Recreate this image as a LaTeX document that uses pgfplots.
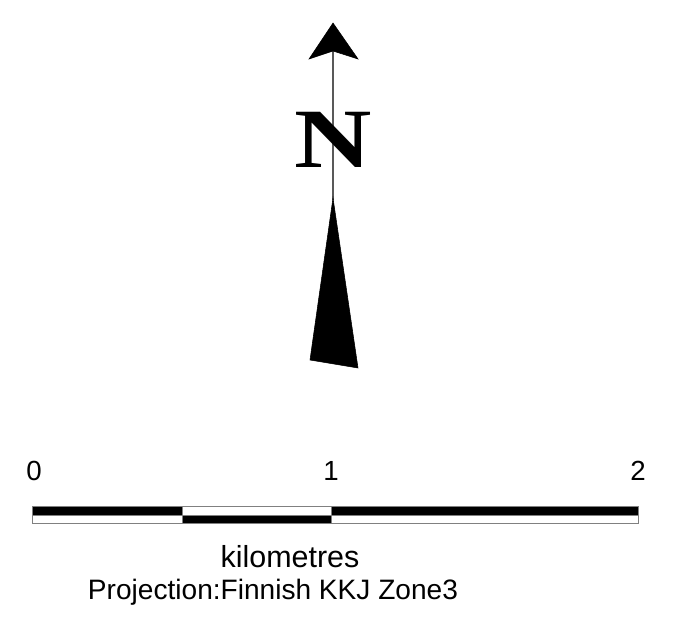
\documentclass[border=0pt]{standalone}
\usepackage{pgfplots}
\pgfplotsset{compat=1.18}
\usepackage{fontspec}
\setmainfont{Liberation Sans}
\newfontfamily\serifN{Liberation Serif}
\begin{document}
\begin{tikzpicture}
\begin{axis}[
    width=6.76in, height=6.31in, scale only axis,
    xmin=0, xmax=676, ymin=0, ymax=631,
    y dir=reverse,
    hide axis, clip=false,
]
\draw[draw=none] (rel axis cs:0,0) rectangle (rel axis cs:1,1);
% north arrow shaft
\addplot[gray!70!black, line width=0.8pt] coordinates {(333,50) (333,200)};
% arrow head
\addplot[fill=black, draw=black] coordinates {(333,23) (358,59) (333,51) (309,59)} -- cycle;
% lower wedge
\addplot[fill=black, draw=black] coordinates {(333,198) (358,368) (310,360)} -- cycle;
\node[font={\serifN\bfseries\fontsize{61}{61}\selectfont}, xscale=1.27, inner sep=0pt]
    at (axis cs:333,140) {N};
% scale bar: upper half
\addplot[fill=black, draw=gray, line width=0.5pt] coordinates {(32,506) (182,506) (182,515) (32,515)} -- cycle;
\addplot[fill=white, draw=gray, line width=0.5pt] coordinates {(182,506) (331,506) (331,515) (182,515)} -- cycle;
\addplot[fill=black, draw=gray, line width=0.5pt] coordinates {(331,506) (638,506) (638,515) (331,515)} -- cycle;
% scale bar: lower half
\addplot[fill=white, draw=gray, line width=0.5pt] coordinates {(32,515) (182,515) (182,523) (32,523)} -- cycle;
\addplot[fill=black, draw=gray, line width=0.5pt] coordinates {(182,515) (331,515) (331,523) (182,523)} -- cycle;
\addplot[fill=white, draw=gray, line width=0.5pt] coordinates {(331,515) (638,515) (638,523) (331,523)} -- cycle;
% labels
\foreach \x/\t in {34/0, 331/1, 638/2} {
  \edef\temp{\noexpand\node[anchor=base, inner sep=0pt, font=\noexpand\fontsize{20}{20}\noexpand\selectfont] at (axis cs:\x,480) {\t};}
  \temp
}
\node[anchor=base, inner sep=0pt, font=\fontsize{22}{22}\selectfont] at (axis cs:290,567) {kilometres};
\node[anchor=base, inner sep=0pt, font=\fontsize{20.3}{21}\selectfont] at (axis cs:273,599) {Projection:Finnish KKJ Zone3};
\end{axis}
\end{tikzpicture}
\end{document}
